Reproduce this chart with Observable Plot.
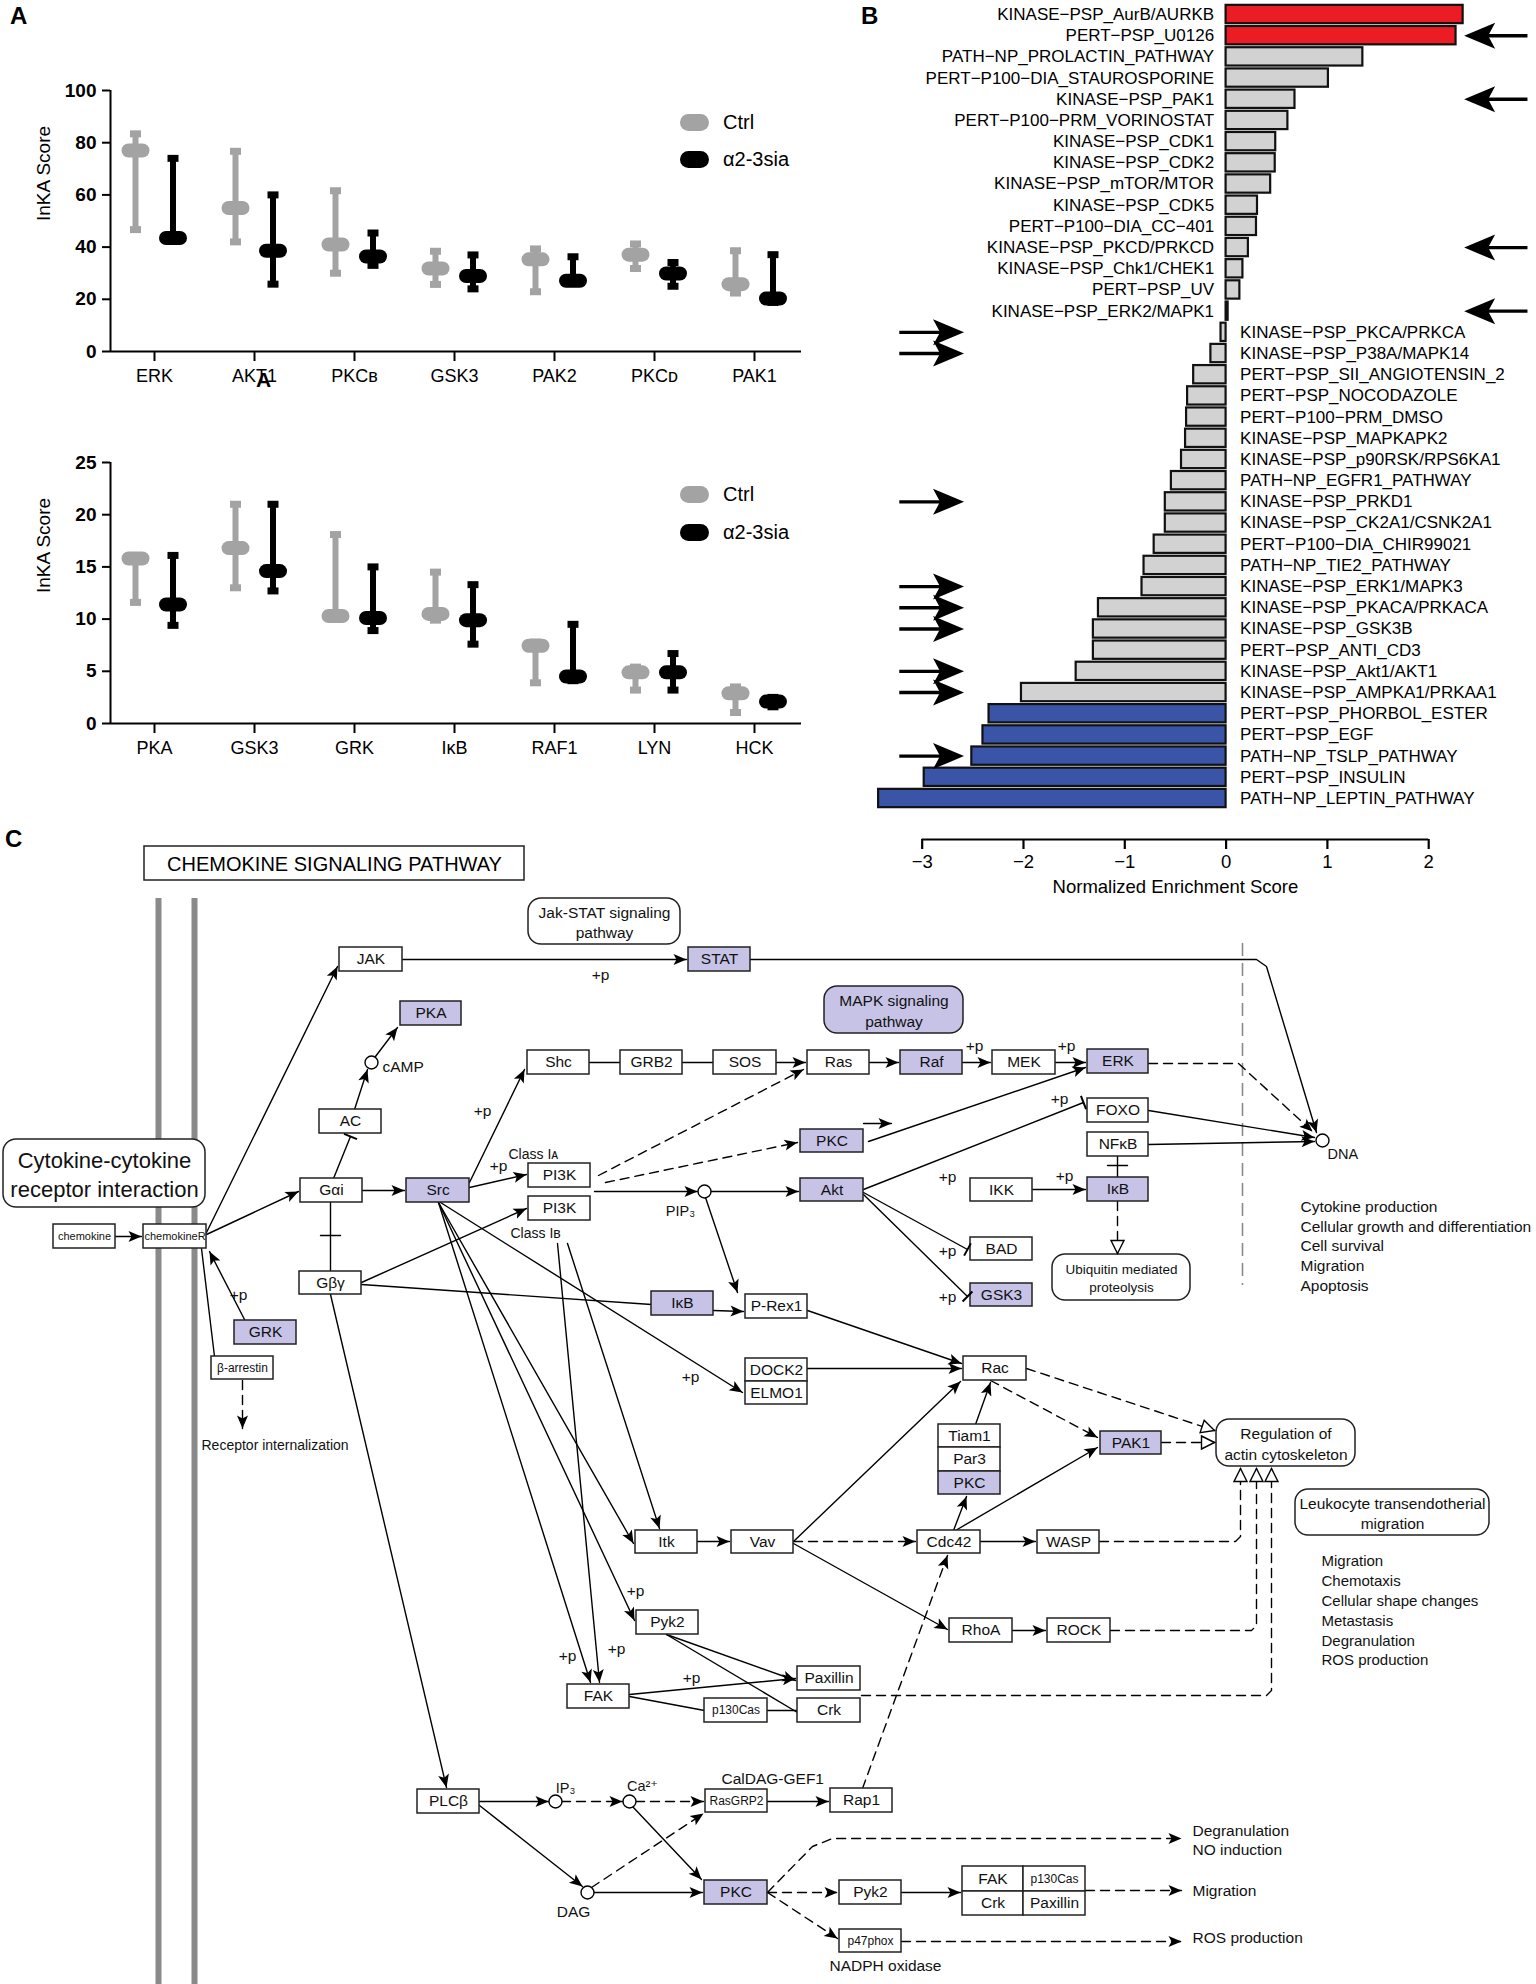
<!DOCTYPE html>
<html><head><meta charset="utf-8">
<script src="https://cdn.jsdelivr.net/npm/d3@7"></script>
<script src="https://cdn.jsdelivr.net/npm/@observablehq/plot@0.6"></script>
<style>
body{margin:0;background:#fff;}
#fig{position:relative;width:1536px;height:1984px;background:#fff;overflow:hidden;font-family:"Liberation Sans",Arial,"DejaVu Sans",sans-serif;}
.panel{position:absolute;}
.plab{position:absolute;font-weight:bold;font-size:24px;line-height:24px;}
.leg{position:absolute;font-size:20px;line-height:20px;}
.cap{position:absolute;width:29px;height:17px;border-radius:8.5px;}
</style></head><body><div id="fig"></div>
<script>
const FONT = '"Liberation Sans", Arial, "DejaVu Sans", sans-serif';
const fig = document.getElementById("fig");

// ---------- Panel A data ----------
const kinTop = ["ERK","AKT1","PKCʙ","GSK3","PAK2","PKCᴅ","PAK1"];
const ctrlTopMid = [77,55,41,31.8,35.3,37.1,25.8];
const ctrlTopLo  = [46.7,42,30,25.7,22.9,31.8,22.4];
const ctrlTopHi  = [83.4,76.7,61.6,38.4,39.3,41.2,38.6];
const siaTopMid  = [43.5,38.6,36.4,28.9,27.1,29.9,20.3];
const siaTopLo   = [43.2,25.8,33,24,27,25,18.8];
const siaTopHi   = [74,60,45.4,37,36.3,34.1,37.1];

const kinBot = ["PKA","GSK3","GRK","IκB","RAF1","LYN","HCK"];
const ctrlBotMid = [15.8,16.8,10.3,10.5,7.45,4.9,2.9];
const ctrlBotLo  = [11.6,13,10.3,9.9,3.9,3.2,1.05];
const ctrlBotHi  = [15.9,21,18.1,14.5,7.8,5.4,3.5];
const siaBotMid  = [11.4,14.6,10.1,9.9,4.5,4.9,2.1];
const siaBotLo   = [9.4,12.7,8.9,7.6,4.1,3.2,1.6];
const siaBotHi   = [16.1,21,15,13.3,9.5,6.7,2.5];

// ---------- Panel B data ----------
const geneSets = ["KINASE−PSP_AurB/AURKB","PERT−PSP_U0126","PATH−NP_PROLACTIN_PATHWAY","PERT−P100−DIA_STAUROSPORINE","KINASE−PSP_PAK1","PERT−P100−PRM_VORINOSTAT","KINASE−PSP_CDK1","KINASE−PSP_CDK2","KINASE−PSP_mTOR/MTOR","KINASE−PSP_CDK5","PERT−P100−DIA_CC−401","KINASE−PSP_PKCD/PRKCD","KINASE−PSP_Chk1/CHEK1","PERT−PSP_UV","KINASE−PSP_ERK2/MAPK1","KINASE−PSP_PKCA/PRKCA","KINASE−PSP_P38A/MAPK14","PERT−PSP_SII_ANGIOTENSIN_2","PERT−PSP_NOCODAZOLE","PERT−P100−PRM_DMSO","KINASE−PSP_MAPKAPK2","KINASE−PSP_p90RSK/RPS6KA1","PATH−NP_EGFR1_PATHWAY","KINASE−PSP_PRKD1","KINASE−PSP_CK2A1/CSNK2A1","PERT−P100−DIA_CHIR99021","PATH−NP_TIE2_PATHWAY","KINASE−PSP_ERK1/MAPK3","KINASE−PSP_PKACA/PRKACA","KINASE−PSP_GSK3B","PERT−PSP_ANTI_CD3","KINASE−PSP_Akt1/AKT1","KINASE−PSP_AMPKA1/PRKAA1","PERT−PSP_PHORBOL_ESTER","PERT−PSP_EGF","PATH−NP_TSLP_PATHWAY","PERT−PSP_INSULIN","PATH−NP_LEPTIN_PATHWAY"];
const nesValues = [2.34,2.27,1.35,1.01,0.68,0.61,0.49,0.485,0.44,0.31,0.30,0.22,0.166,0.136,0.02,-0.05,-0.15,-0.32,-0.38,-0.39,-0.40,-0.44,-0.54,-0.60,-0.60,-0.71,-0.81,-0.83,-1.26,-1.31,-1.31,-1.48,-2.02,-2.34,-2.40,-2.51,-2.98,-3.43];
const enrichment = ["up","up","ns","ns","ns","ns","ns","ns","ns","ns","ns","ns","ns","ns","ns","ns","ns","ns","ns","ns","ns","ns","ns","ns","ns","ns","ns","ns","ns","ns","ns","ns","ns","down","down","down","down","down"];
const flagged = ["PERT−PSP_U0126","KINASE−PSP_PAK1","KINASE−PSP_PKCD/PRKCD","KINASE−PSP_ERK2/MAPK1","KINASE−PSP_PKCA/PRKCA","KINASE−PSP_P38A/MAPK14","KINASE−PSP_PRKD1","KINASE−PSP_ERK1/MAPK3","KINASE−PSP_PKACA/PRKACA","KINASE−PSP_GSK3B","KINASE−PSP_Akt1/AKT1","KINASE−PSP_AMPKA1/PRKAA1","PATH−NP_TSLP_PATHWAY"];
const nesTicks = [-3,-2,-1,0,1,2];

// ---------- Panel C diagram (nodes / edges layout) ----------
const boxes = [
 ["JAK",339,402,947,971,0],["STAT",688,750,947,971,1],["PKA",400,461,1001,1025,1],["AC",319,381,1109,1133,0],
 ["Shc",527,589,1050,1074,0],["GRB2",620,682,1050,1074,0],["SOS",713,776,1050,1074,0],["Ras",807,869,1050,1074,0],
 ["Raf",900,962,1050,1074,1],["MEK",992,1055,1050,1074,0],["ERK",1087,1148,1049,1073,1],["FOXO",1087,1148,1098,1122,0],
 ["NFκB",1087,1148,1132,1156,0],["IκB",1087,1148,1177,1201,1],["PKC",800,863,1129,1152,1],["Gαi",300,362,1178,1202,0],
 ["Src",406,469,1178,1202,1],["PI3K",528,590,1163,1187,0],["PI3K",528,590,1196,1220,0],["Akt",800,863,1178,1201,1],
 ["IKK",970,1032,1178,1201,0],["BAD",970,1032,1237,1260,0],["GSK3",970,1032,1283,1306,1],
 ["chemokine",53,115,1224,1248,0,11],["chemokineR",143,206,1224,1248,0,11],["Gβγ",299,361,1271,1294,0],
 ["IκB",651,713,1291,1315,1],["P-Rex1",745,807,1294,1318,0],["GRK",234,296,1320,1344,1],["β-arrestin",211,273,1356,1379,0,12],
 ["DOCK2",745,807,1358,1381,0],["ELMO1",745,807,1381,1404,0],["Rac",963,1026,1356,1380,0],
 ["Tiam1",938,1000,1424,1447,0],["Par3",938,1000,1447,1471,0],["PKC",938,1000,1471,1494,1],["PAK1",1100,1161,1431,1454,1],
 ["Itk",635,697,1530,1553,0],["Vav",731,793,1530,1553,0],["Cdc42",917,980,1530,1553,0],["WASP",1037,1099,1530,1553,0],
 ["Pyk2",636,698,1610,1634,0],["RhoA",949,1012,1618,1642,0],["ROCK",1047,1110,1618,1642,0],
 ["Paxillin",797,860,1666,1690,0],["FAK",567,629,1684,1708,0],["p130Cas",704,767,1698,1722,0,12],["Crk",797,860,1698,1722,0],
 ["PLCβ",417,479,1789,1813,0],["RasGRP2",705,767,1789,1812,0,12],["Rap1",830,892,1788,1812,0],
 ["PKC",704,767,1880,1904,1],["Pyk2",839,901,1880,1904,0],
 ["FAK",962,1023,1866,1891,0],["p130Cas",1023,1085,1866,1891,0,12],["Crk",962,1023,1891,1915,0],["Paxillin",1023,1085,1891,1915,0],
 ["p47phox",839,901,1929,1952,0,12]
];
const roundBoxes = [
 ["Jak-STAT signaling\npathway",528,680,898,944,0,15.5],
 ["MAPK signaling\npathway",824,963,986,1033,1,15.5],
 ["Cytokine-cytokine\nreceptor interaction",3,205,1139,1207,0,22],
 ["Ubiquitin mediated\nproteolysis",1052,1190,1254,1300,0,13.5],
 ["Regulation of\nactin cytoskeleton",1216,1355,1419,1466,0,15.5],
 ["Leukocyte transendotherial\nmigration",1295,1489,1489,1535,0,15.5]
];
const metabolites = [[371,1062],[704,1191],[555,1801],[629,1801],[587,1892],[1322,1140]];
const freeTexts = [
 ["cAMP",382,1067,"start",15.5],["+p",600,975,"middle",15.5],["Class Iᴀ",508,1154,"start",14],["Class Iʙ",510,1233,"start",14],
 ["+p",498,1166,"middle",15.5],["+p",482,1111,"middle",15.5],["PIP₃",680,1211,"middle",14.5],["+p",1059,1099,"middle",15.5],
 ["+p",974,1046,"middle",15.5],["+p",1066,1046,"middle",15.5],["+p",947,1177,"middle",15.5],["+p",1064,1176,"middle",15.5],
 ["+p",947,1251,"middle",15.5],["+p",947,1297,"middle",15.5],["+p",238,1295,"middle",15.5],["+p",690,1377,"middle",15.5],
 ["DNA",1327,1154,"start",14.5],
 ["Cytokine production",1300,1207,"start",15.5],["Cellular growth and differentiation",1300,1227,"start",15.5],["Cell survival",1300,1246,"start",15.5],["Migration",1300,1266,"start",15.5],["Apoptosis",1300,1286,"start",15.5],
 ["Receptor internalization",201,1445,"start",14],
 ["Migration",1321,1561,"start",15],["Chemotaxis",1321,1581,"start",15],["Cellular shape changes",1321,1601,"start",15],["Metastasis",1321,1621,"start",15],["Degranulation",1321,1641,"start",15],["ROS production",1321,1660,"start",15],
 ["+p",635,1591,"middle",15.5],["+p",567,1656,"middle",15.5],["+p",616,1649,"middle",15.5],["+p",691,1678,"middle",15.5],
 ["IP₃",565,1788,"middle",14.5],["Ca²⁺",642,1786,"middle",14.5],["DAG",573,1912,"middle",15.5],["CalDAG-GEF1",721,1779,"start",15.5],
 ["Degranulation",1192,1831,"start",15.5],["NO induction",1192,1850,"start",15.5],["Migration",1192,1891,"start",15.5],["ROS production",1192,1938,"start",15.5],
 ["NADPH oxidase",885,1966,"middle",15.5]
];
const edges = [
 [[[115,1236],[141,1236]],0,"a"],[[[206,1232],[337,966]],0,"a"],[[[206,1234],[298,1191]],0,"a"],[[[244,1319],[209,1251]],0,"a"],
 [[[201,1248],[214,1356]],0,""],[[[242,1380],[242,1428]],1,"a"],[[[402,959],[686,959]],0,"a"],
 [[[750,959],[1256,959],[1266,966],[1316,1132]],0,"a"],
 [[[333,1178],[350,1136]],0,"t"],[[[354,1109],[367,1069]],0,"a"],[[[375,1056],[397,1027]],0,"a"],[[[362,1190],[404,1190]],0,"a"],
 [[[330,1202],[330,1271]],0,""],[[[320,1235],[340,1235]],0,""],
 [[[469,1182],[524,1069]],0,"a"],[[[469,1187],[526,1174]],0,"a"],[[[589,1062],[620,1062]],0,""],[[[682,1062],[713,1062]],0,""],
 [[[776,1062],[805,1062]],0,"a"],[[[598,1175],[803,1069]],1,"a"],[[[605,1182],[797,1142]],1,"a"],
 [[[594,1191],[697,1191]],0,"a"],[[[710,1191],[798,1191]],0,"a"],[[[705,1197],[737,1292]],0,"a"],
 [[[869,1062],[898,1062]],0,"a"],[[[962,1062],[990,1062]],0,"a"],[[[1055,1062],[1085,1062]],0,"a"],
 [[[868,1141],[1085,1067]],0,"a"],[[[863,1123],[891,1123]],0,"a"],
 [[[863,1189],[1083,1102]],0,"t"],[[[863,1192],[967,1249]],0,"t"],[[[863,1194],[967,1296]],0,"t"],
 [[[1032,1189],[1085,1189]],0,"a"],[[[1117,1156],[1117,1177]],0,""],[[[1107,1165],[1127,1165]],0,""],
 [[[1117,1201],[1117,1253]],1,"o"],[[[1148,1110],[1314,1137]],0,"a"],[[[1148,1144],[1314,1141]],0,"a"],
 [[[1148,1063],[1238,1063],[1312,1131]],1,"a"],
 [[[361,1282],[526,1208]],0,"a"],[[[361,1284],[651,1304]],0,""],[[[713,1310],[743,1311]],0,"a"],
 [[[330,1294],[446,1787]],0,"a"],
 [[[438,1202],[590,1682]],0,"a"],[[[438,1202],[634,1620]],0,"a"],[[[438,1202],[633,1543]],0,"a"],[[[440,1202],[742,1392]],0,"a"],
 [[[557,1243],[599,1682]],0,"a"],[[[567,1243],[659,1528]],0,"a"],
 [[[807,1310],[961,1363]],0,"a"],[[[807,1368],[961,1368]],0,"a"],[[[793,1541],[960,1381]],0,"a"],[[[975,1424],[990,1382]],0,"a"],
 [[[990,1380],[1097,1437]],1,"a"],[[[1026,1368],[1214,1430]],1,"o"],[[[1161,1442],[1214,1442]],1,"o"],
 [[[953,1530],[966,1496]],0,"a"],[[[955,1530],[1097,1447]],0,"a"],[[[793,1541],[915,1541]],1,"a"],
 [[[980,1541],[1035,1541]],0,"a"],[[[793,1543],[947,1629]],0,"a"],[[[1012,1630],[1045,1630]],0,"a"],[[[697,1541],[729,1541]],0,"a"],
 [[[1099,1541],[1235,1541],[1240,1536],[1240,1468]],1,"o"],
 [[[1110,1630],[1251,1630],[1256,1625],[1256,1468]],1,"o"],
 [[[861,1695],[1266,1695],[1271,1690],[1271,1468]],1,"o"],
 [[[666,1634],[795,1680]],0,"a"],[[[666,1634],[797,1712]],0,""],[[[629,1694],[795,1678]],0,"a"],
 [[[629,1696],[704,1710]],0,""],[[[767,1710],[797,1710]],0,""],
 [[[479,1801],[548,1801]],0,"a"],[[[561,1801],[622,1801]],1,"a"],[[[635,1801],[703,1801]],1,"a"],
 [[[479,1805],[582,1886]],0,"a"],[[[593,1892],[702,1892]],0,"a"],[[[591,1887],[703,1813]],1,"a"],
 [[[632,1806],[701,1879]],0,"a"],[[[767,1801],[828,1801]],0,"a"],[[[862,1788],[947,1555]],1,"a"],
 [[[767,1892],[812,1846],[832,1838],[1181,1838]],1,"a"],[[[767,1892],[837,1892]],1,"a"],[[[767,1892],[837,1938]],1,"a"],
 [[[901,1892],[960,1892]],0,"a"],[[[1085,1890],[1181,1890]],1,"a"],[[[901,1941],[1181,1941]],1,"a"]
];

// ---------- helpers ----------
function place(el, left, top){ el.classList.add("panel"); el.style.left = left+"px"; el.style.top = top+"px"; fig.appendChild(el); }
function html(cls, text, left, top, extra){ const d=document.createElement("div"); d.className=cls; d.textContent=text; d.style.left=left+"px"; d.style.top=top+"px"; if(extra) Object.assign(d.style, extra); fig.appendChild(d); return d; }
function symbolOf(fn){ return {draw: fn}; }
const arrowSmall = symbolOf(c=>{c.moveTo(0,0);c.lineTo(-13,-5.5);c.lineTo(-10,0);c.lineTo(-13,5.5);c.closePath();});
const tbar = symbolOf(c=>{c.moveTo(-1,-7);c.lineTo(1,-7);c.lineTo(1,7);c.lineTo(-1,7);c.closePath();});
const openHead = symbolOf(c=>{c.moveTo(0,0);c.lineTo(-13,-6.5);c.lineTo(-13,6.5);c.closePath();});
const bigArrow = symbolOf(c=>{c.moveTo(0,0);c.lineTo(-31,-13);c.lineTo(-24,0);c.lineTo(-31,13);c.closePath();});
const minusFmt = d => (d<0?"−":"") + Math.abs(d);

// ---------- Panel A ----------
function panelA(cats, cMid, cLo, cHi, sMid, sLo, sHi, yMax, yTicks, top, height, mTop, mBottom){
  const rows = [];
  cats.forEach((c,i)=>{
    rows.push({x:i-0.19, mid:cMid[i], lo:cLo[i], hi:cHi[i], col:"#a3a3a3"});
    rows.push({x:i+0.185, mid:sMid[i], lo:sLo[i], hi:sHi[i], col:"#000000"});
  });
  const p = Plot.plot({
    width:840, height, marginLeft:110, marginRight:39, marginTop:mTop, marginBottom:mBottom,
    x:{domain:[-0.44,6.47]}, y:{domain:[0,yMax]},
    style:{background:"transparent", fontFamily:FONT, overflow:"visible"},
    marks:[
      Plot.ruleX(rows,{x:"x",y1:"lo",y2:"hi",stroke:d=>d.col,strokeWidth:6}),
      Plot.link(rows,{x1:d=>d.x-0.055,x2:d=>d.x+0.055,y1:"hi",y2:"hi",stroke:d=>d.col,strokeWidth:7}),
      Plot.link(rows,{x1:d=>d.x-0.055,x2:d=>d.x+0.055,y1:"lo",y2:"lo",stroke:d=>d.col,strokeWidth:7}),
      Plot.link(rows,{x1:d=>d.x-0.07,x2:d=>d.x+0.07,y1:"mid",y2:"mid",stroke:d=>d.col,strokeWidth:14,strokeLinecap:"round"}),
      Plot.ruleY([0],{strokeWidth:2}),
      Plot.ruleX([-0.44],{y1:0,y2:yMax,strokeWidth:2}),
      Plot.axisY({ticks:yTicks, tickSize:8, tickPadding:6, fontSize:19, fontWeight:"bold", label:null, strokeWidth:2}),
      Plot.axisX({ticks:d3.range(cats.length), tickFormat:i=>cats[i], tickSize:10, tickPadding:8, fontSize:18, label:null, strokeWidth:2}),
      Plot.text(["InKA Score"],{frameAnchor:"left", dx:-67, rotate:-90, fontSize:19})
    ]
  });
  place(p, 0, top);
}
panelA(kinTop, ctrlTopMid, ctrlTopLo, ctrlTopHi, siaTopMid, siaTopLo, siaTopHi, 100, [0,20,40,60,80,100], 0, 410, 90, 59);
panelA(kinBot, ctrlBotMid, ctrlBotLo, ctrlBotHi, siaBotMid, siaBotLo, siaBotHi, 25, [0,5,10,15,20,25], 420, 380, 42, 77);

// legends for panel A
[[122,159],[494,532]].forEach(([y1,y2])=>{
  html("cap","",680,y1-8.5,{background:"#a3a3a3"});
  html("leg","Ctrl",723,y1-10);
  html("cap","",680,y2-8.5,{background:"#000"});
  html("leg","α2-3sia",723,y2-10);
});
html("plab","A",10,4);
html("plab","A",256,368,{fontSize:21+"px"});

// ---------- Panel B ----------
const rowsB = geneSets.map((name,i)=>({name, nes:nesValues[i], dir:enrichment[i], i}));
const fillOf = {up:"#ec1c24", ns:"#d2d2d2", down:"#3a55a8"};
const marks = rowsB.filter(d=>flagged.includes(d.name));
const axisRow = geneSets.length - 1 + 1.935;
const pB = Plot.plot({
  width:676, height:905, marginLeft:1, marginRight:6, marginTop:0, marginBottom:66,
  x:{domain:[-3.6,3.0], range:[0.9,669.5]},
  y:{domain:[0,axisRow], range:[14,839], axis:null},
  style:{background:"transparent", fontFamily:FONT, overflow:"visible"},
  marks:[
    Plot.rect(rowsB,{x1:0,x2:"nes",y1:d=>d.i-0.432,y2:d=>d.i+0.432,fill:d=>fillOf[d.dir],stroke:"#111",strokeWidth:2.2}),
    Plot.text(rowsB.filter(d=>d.nes>=0),{x:0,y:"i",text:"name",textAnchor:"end",dx:-12,fontSize:17}),
    Plot.text(rowsB.filter(d=>d.nes<0),{x:0,y:"i",text:"name",textAnchor:"start",dx:14,fontSize:17}),
    Plot.ruleY([axisRow],{x1:-3,x2:2,strokeWidth:2.2}),
    Plot.axisX({ticks:nesTicks, tickFormat:minusFmt, tickSize:10, tickPadding:5, fontSize:18.5, label:null, strokeWidth:2.2}),
    Plot.text([{x:-0.5,t:"Normalized Enrichment Score"}],{x:"x",text:"t",frameAnchor:"bottom",dy:53,fontSize:18.5}),
    Plot.link(marks,{x1:d=>d.nes>=0?2.55:-3.226,x2:d=>d.nes>=0?2.975:-2.79,y1:"i",y2:"i",strokeWidth:3.4}),
    Plot.dot(marks,{x:d=>d.nes>=0?2.35:-2.587,y:"i",rotate:d=>d.nes>=0?180:0,symbol:bigArrow,fill:"#000",stroke:"none"})
  ]
});
place(pB, 860, 0);
html("plab","B",861,4);

// ---------- Panel C ----------
const boxData = boxes.map(b=>({t:b[0],x1:b[1],x2:b[2],y1:b[3],y2:b[4],hi:b[5],fs:b[6]||15.5}));
const rboxData = roundBoxes.map(b=>({t:b[0],x1:b[1],x2:b[2],y1:b[3],y2:b[4],hi:b[5],fs:b[6]}));
const txtData = freeTexts.map(t=>({t:t[0],x:t[1],y:t[2],a:t[3],fs:t[4]}));
const pts = (dashed)=>edges.flatMap((e,k)=>e[1]===dashed?e[0].map(p=>({k,x:p[0],y:p[1]})):[]);
const heads = edges.filter(e=>e[2]).map(e=>{const n=e[0].length;const [x1,y1]=e[0][n-2],[x2,y2]=e[0][n-1];
  return {x:x2,y:y2,ang:Math.atan2(y2-y1,x2-x1)*180/Math.PI,h:e[2]};});
const PURPLE = "#c6c3e7";
const pC = Plot.plot({
  width:1536, height:1162, margin:0,
  x:{domain:[0,1536], range:[0,1536]}, y:{domain:[822,1984], range:[0,1162]},
  axis:null,
  style:{background:"transparent", fontFamily:FONT, overflow:"visible"},
  marks:[
    Plot.ruleX([158,194],{y1:898,y2:1984,stroke:"#8a8a8a",strokeWidth:6}),
    Plot.ruleX([1242],{y1:943,y2:1285,stroke:"#8a8a8a",strokeWidth:1.6,strokeDasharray:"13,7"}),
    Plot.rect([{x1:144,x2:524,y1:846,y2:880}],{x1:"x1",x2:"x2",y1:"y1",y2:"y2",fill:"#fff",stroke:"#222",strokeWidth:1.5}),
    Plot.text(["CHEMOKINE SIGNALING PATHWAY"],{x:334,y:864,fontSize:20}),
    Plot.line(pts(0),{x:"x",y:"y",z:"k",stroke:"#000",strokeWidth:1.4}),
    Plot.line(pts(1),{x:"x",y:"y",z:"k",stroke:"#000",strokeWidth:1.4,strokeDasharray:"9,6"}),
    Plot.rect(boxData,{x1:"x1",x2:"x2",y1:"y1",y2:"y2",fill:d=>d.hi?PURPLE:"#fff",stroke:"#222",strokeWidth:1.5}),
    Plot.text(boxData,{x:d=>(d.x1+d.x2)/2,y:d=>(d.y1+d.y2)/2,text:"t",fontSize:"fs",fill:"#111"}),
    Plot.rect(rboxData,{x1:"x1",x2:"x2",y1:"y1",y2:"y2",fill:d=>d.hi?PURPLE:"#fff",stroke:"#222",strokeWidth:1.5,rx:13}),
    Plot.text(rboxData,{x:d=>(d.x1+d.x2)/2,y:d=>(d.y1+d.y2)/2,text:"t",fontSize:"fs",lineHeight:1.3,fill:"#111"}),
    Plot.dot(metabolites,{x:d=>d[0],y:d=>d[1],r:6.5,fill:"#fff",stroke:"#000",strokeWidth:1.4}),
    Plot.text(txtData.filter(d=>d.a==="start"),{x:"x",y:"y",text:"t",fontSize:"fs",textAnchor:"start",fill:"#111"}),
    Plot.text(txtData.filter(d=>d.a==="middle"),{x:"x",y:"y",text:"t",fontSize:"fs",fill:"#111"}),
    Plot.dot(heads.filter(d=>d.h==="a"),{x:"x",y:"y",rotate:"ang",symbol:arrowSmall,fill:"#000",stroke:"none"}),
    Plot.dot(heads.filter(d=>d.h==="t"),{x:"x",y:"y",rotate:"ang",symbol:tbar,fill:"#000",stroke:"none"}),
    Plot.dot(heads.filter(d=>d.h==="o"),{x:"x",y:"y",rotate:"ang",symbol:openHead,fill:"#fff",stroke:"#000",strokeWidth:1.4})
  ]
});
place(pC, 0, 822);
html("plab","C",5,827);
</script></body></html>
